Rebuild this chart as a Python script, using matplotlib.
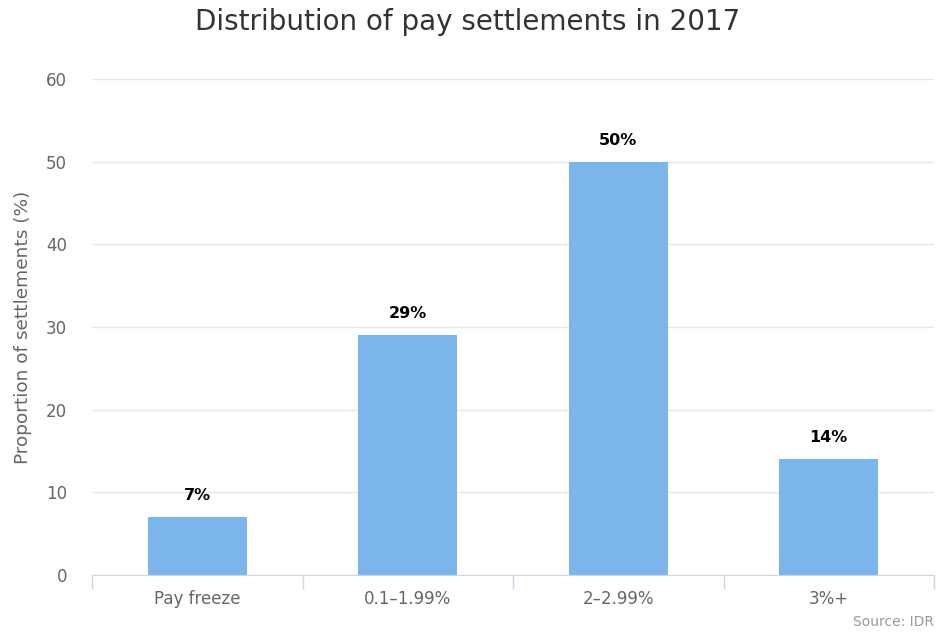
import numpy as np
import matplotlib.pyplot as plt

categories = ["Pay freeze", "0.1–1.99%", "2–2.99%", "3%+"]
shares = [7, 29, 50, 14]
y_ticks = [0, 10, 20, 30, 40, 50, 60]

BAR_COLOR = "#7cb5ec"
GRID_COLOR = "#e6e6e6"
AXIS_COLOR = "#ccd6eb"
LABEL_COLOR = "#666666"

plt.rcParams["font.family"] = ["DejaVu Sans"]

fig = plt.figure(figsize=(9.42, 6.32), dpi=100)
ax = fig.add_axes([0.0977, 0.0902, 0.8938, 0.7848])

ind = np.arange(len(categories))
ax.bar(ind, shares, width=0.47, color=BAR_COLOR, zorder=3)

for x, v in zip(ind, shares):
    ax.annotate("%d%%" % v, (x, v), xytext=(0, 10), textcoords="offset points",
                ha="center", va="bottom", fontsize=11.5, fontweight="bold",
                color="#000000", zorder=4)

ax.set_xlim(-0.5, len(categories) - 0.5)
ax.set_ylim(0, 60)
ax.set_yticks(y_ticks)
ax.yaxis.grid(True, color=GRID_COLOR, linewidth=1, zorder=0)
ax.tick_params(axis="y", length=0, pad=18, labelsize=12, labelcolor=LABEL_COLOR)

# category boundaries get the tick marks, labels sit in the middle
ax.set_xticks(np.arange(len(categories) + 1) - 0.5)
ax.set_xticklabels([])
ax.set_xticks(ind, minor=True)
ax.set_xticklabels(categories, minor=True)
ax.tick_params(axis="x", which="major", length=10, color=AXIS_COLOR, width=1)
ax.tick_params(axis="x", which="minor", length=0, pad=11, labelsize=12,
               labelcolor=LABEL_COLOR)

for side in ["top", "right", "left"]:
    ax.spines[side].set_visible(False)
ax.spines["bottom"].set_color(AXIS_COLOR)
ax.spines["bottom"].set_zorder(5)

ax.set_ylabel("Proportion of settlements (%)", fontsize=13.3, color=LABEL_COLOR,
              va="center")
ax.yaxis.set_label_coords(-0.082, 0.5)
fig.suptitle("Distribution of pay settlements in 2017", x=0.496, y=0.988,
             fontsize=20, color="#333333", va="top")
fig.text(0.991, 0.004, "Source: IDR", ha="right", va="bottom", fontsize=10,
         color="#999999")

fig.savefig("out.png", dpi=100)
